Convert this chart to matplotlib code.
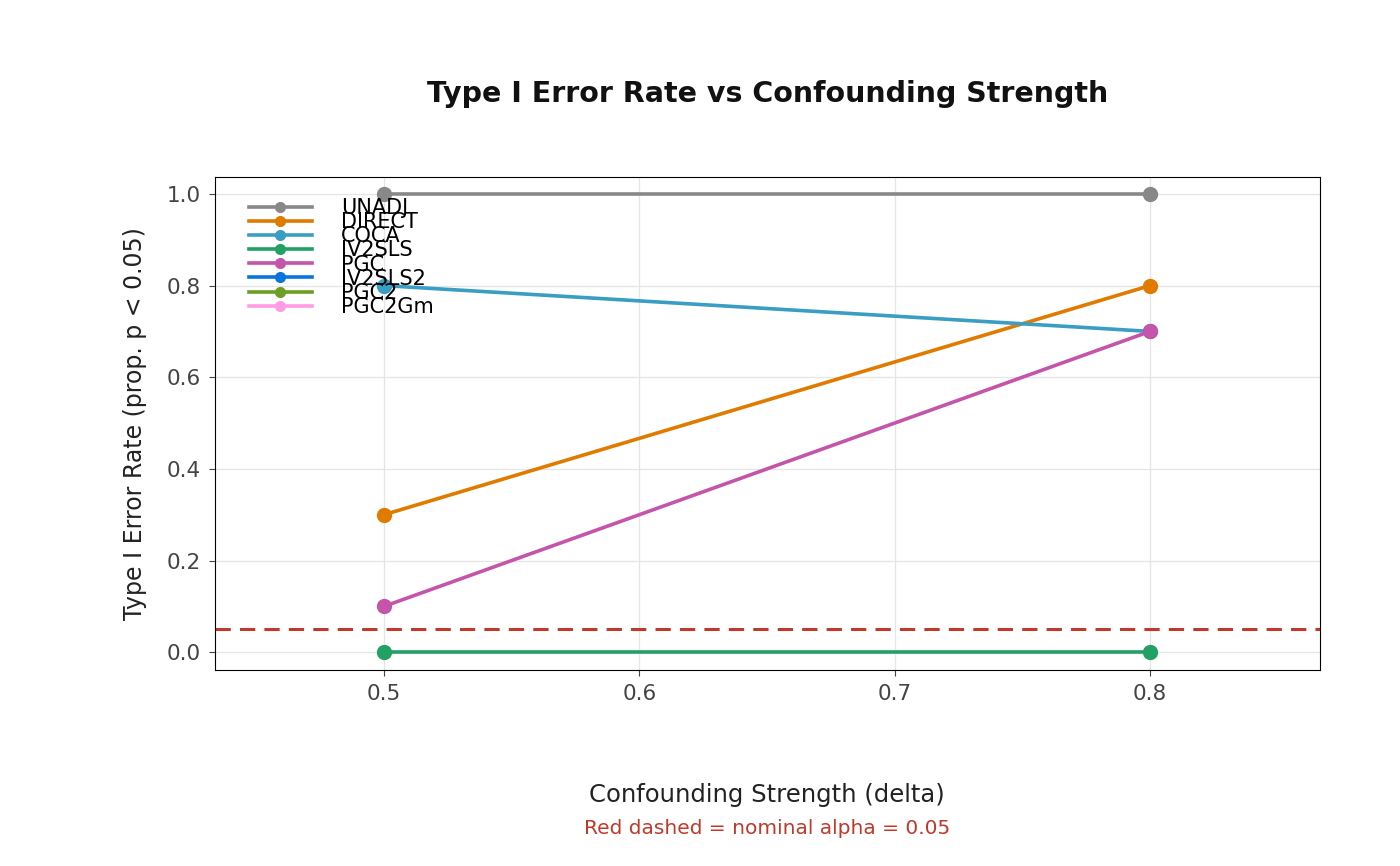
import matplotlib
matplotlib.use("Agg")
import matplotlib.pyplot as plt
import numpy as np

delta = [0.5, 0.8]
methods = ["UNADJ", "DIRECT", "COCA", "IV2SLS", "PGC", "IV2SLS2", "PGC2", "PGC2Gm"]
colors = ["#888888", "#E07B00", "#3A9DC4", "#23A063", "#C455AA", "#0A74DA", "#6E9E24", "#FF9CE6"]
values = {
    "UNADJ": [1.0, 1.0],
    "DIRECT": [0.3, 0.8],
    "COCA": [0.8, 0.7],
    "IV2SLS": [0.0, 0.0],
    "PGC": [0.1, 0.7],
    "IV2SLS2": [np.nan, np.nan],
    "PGC2": [np.nan, np.nan],
    "PGC2Gm": [np.nan, np.nan],
}

fig = plt.figure(figsize=(14, 8.66), dpi=100)
ax = fig.add_axes([0.1536, 0.2263, 0.7893, 0.5693])
for m, c in zip(methods, colors):
    ax.plot(delta, values[m], color=c, lw=2.6, marker="o", ms=10, label=m)
ax.axhline(0.05, color="#C0392B", ls=(0, (5, 3)), lw=2.2)
ax.set_xlim(0.4338, 0.8666)
ax.set_ylim(-0.039, 1.037)
ax.set_xticks([0.5, 0.6, 0.7, 0.8])
ax.set_yticks([0.0, 0.2, 0.4, 0.6, 0.8, 1.0])
ax.set_xticklabels(["0.5", "0.6", "0.7", "0.8"])
ax.set_yticklabels(["0.0", "0.2", "0.4", "0.6", "0.8", "1.0"])
ax.grid(color="#E5E5E5", lw=0.9)
ax.set_axisbelow(True)
ax.tick_params(labelsize=15.5, colors="#444444", length=4, pad=6)
for s in ax.spines.values():
    s.set_color("black")
ax.set_ylabel("Type I Error Rate (prop. p < 0.05)", fontsize=17, color="#222222", labelpad=14)
fig.text(0.548, 0.0735, "Confounding Strength (delta)", ha="center", fontsize=17.5, color="#222222")
fig.text(0.548, 0.037, "Red dashed = nominal alpha = 0.05", ha="center", fontsize=14.5, color="#C0392B")
fig.text(0.548, 0.882, "Type I Error Rate vs Confounding Strength", ha="center",
         fontsize=20.5, fontweight="bold", color="#111111")
leg = ax.legend(loc="upper left", bbox_to_anchor=(0.012, 1.0), frameon=False, fontsize=15,
                labelspacing=-0.28, handlelength=3.0, handletextpad=1.4, markerscale=0.7,
                borderaxespad=0.6)
fig.savefig("out.png", dpi=100)
